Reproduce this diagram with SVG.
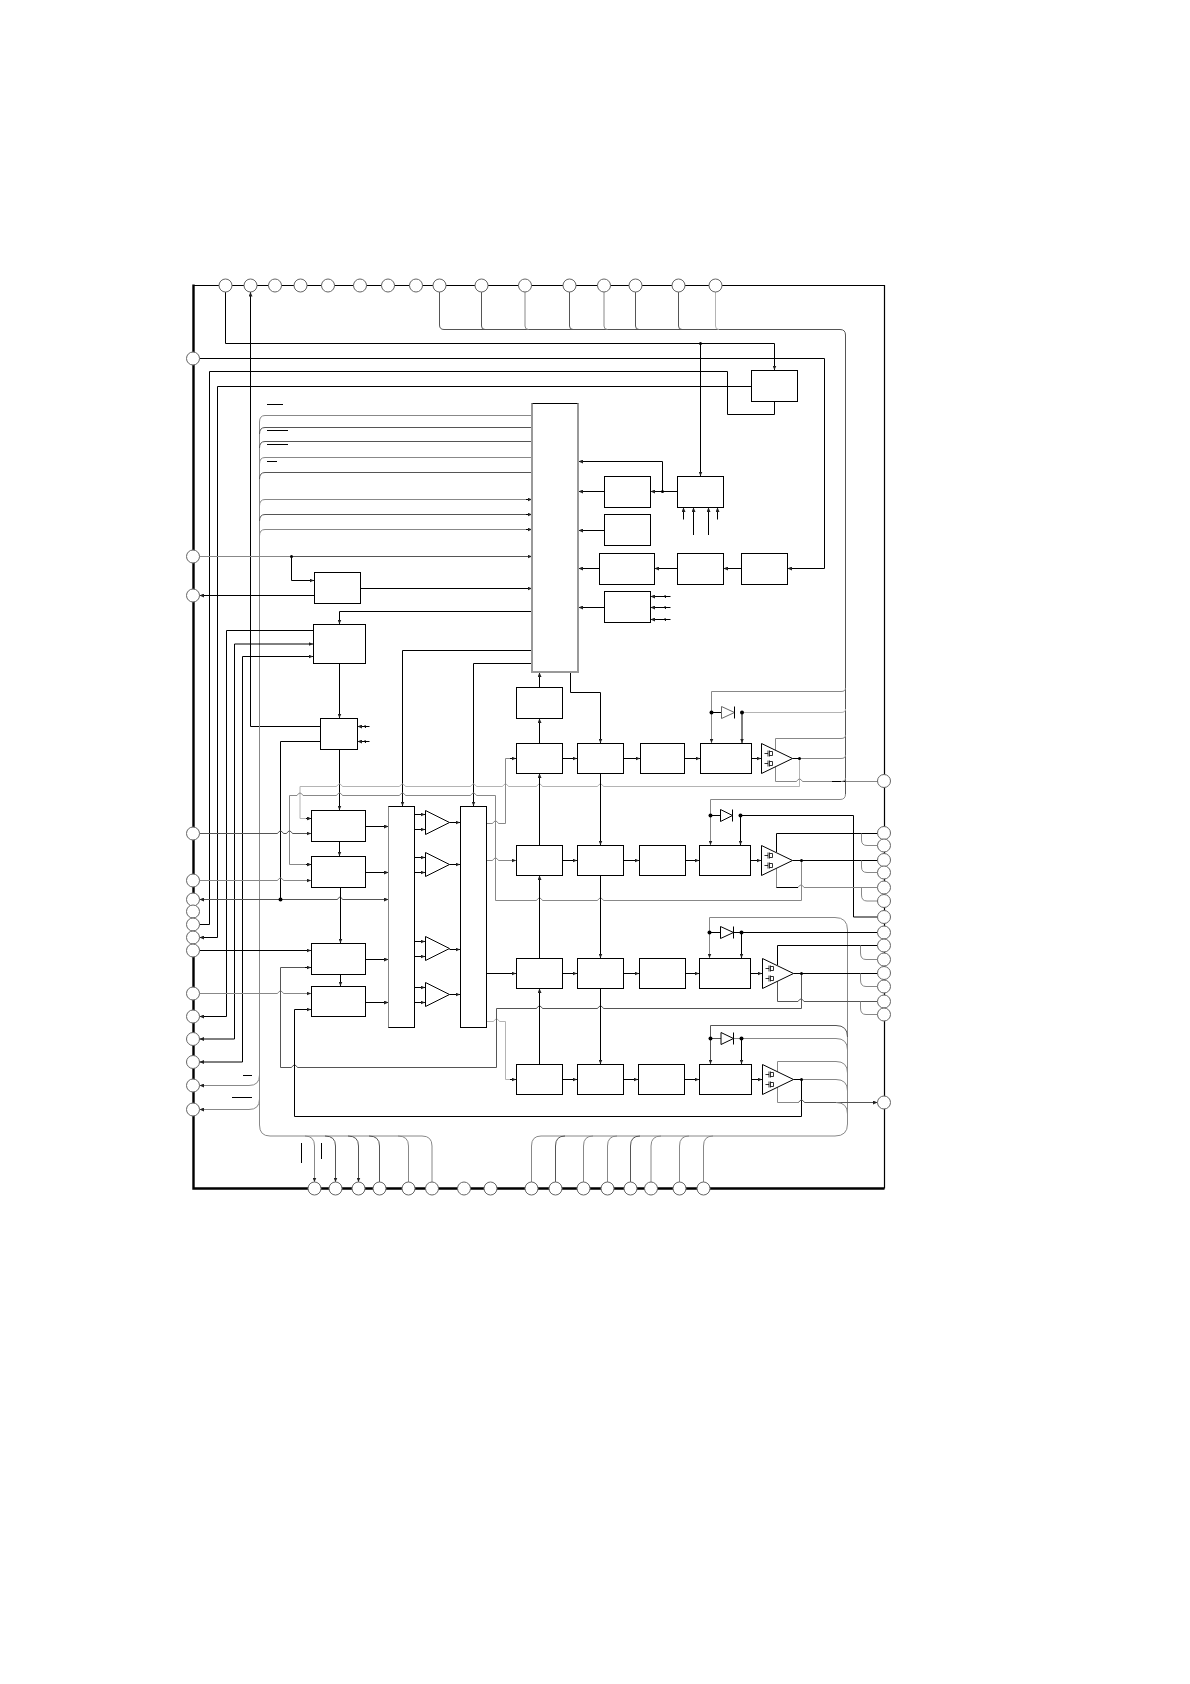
<svg xmlns="http://www.w3.org/2000/svg" width="1190" height="1684" viewBox="0 0 1190 1684">
<style>
path{fill:none;stroke-linejoin:miter}
.k{stroke:#000;stroke-width:1}
.d{stroke:#555;stroke-width:1}
.g{stroke:#888;stroke-width:1}
.l{stroke:#b4b4b4;stroke-width:1}
.a{marker-end:url(#ah)}
.b{fill:#fff;stroke:#000;stroke-width:1}
.p{fill:#fff;stroke:#666;stroke-width:1}
.t{fill:#fff;stroke:#000;stroke-width:1}
.dot{fill:#000;stroke:none}
.s{fill:none;stroke:#999;stroke-width:2}
.f{fill:none;stroke:#000;stroke-width:.8}
</style>
<defs>
<marker id="ah" markerUnits="userSpaceOnUse" markerWidth="5" markerHeight="4" refX="4.5" refY="2" orient="auto"><polygon points="0,0 4.5,2 0,4" fill="#222"/></marker>
<g id="fet"><path class="f" d="M3 -4H6.5M6.5 -7V-1M8 -7V-1M8 -6H11V-2H8M3 6H6.5M6.5 3V9M8 3V9M8 4H11V8H8"/></g>
</defs>
<rect width="1190" height="1684" fill="#fff"/>
<g id="frame">
<path stroke="#000" stroke-width="1.2" d="M193 285.5H884.5V1188.5"/>
<path stroke="#000" stroke-width="2.4" d="M193.5 284.5V1188.5H884.5"/>
</g>
<g id="connectors">
<path class="k a" d="M225.5 292V343.5H774.5V370"/>
<path class="k a" d="M700.5 343.5V476"/>
<path class="k a" d="M199.5 358.5H824.5V568.5H787.5"/>
<path class="k" d="M199.5 924.5H209.5V371.5H727.5V414.5H774.5V401.5"/>
<path class="k a" d="M751.5 386.5H217.5V937.5H199.5"/>
<path class="k a" d="M320.5 726.5H250.5V292"/>
<path class="k" d="M267 404.5H283M267 430.5H288M267 444.5H288M267 461.5H277M243 1075.5H252M232 1097.5H252M301.5 1143V1163M321.5 1143V1159"/>
<path class="g" d="M532 415.5H265Q259.5 415.5 259.5 422V1125Q259.5 1136 270 1136H422Q432 1136 432 1146V1182"/>
<path class="d" d="M532 427.5H265Q259.5 427.5 259.5 434"/>
<path class="d" d="M532 441.5H265Q259.5 441.5 259.5 448"/>
<path class="g" d="M532 457.5H265Q259.5 457.5 259.5 464"/>
<path class="d" d="M532 472.5H265Q259.5 472.5 259.5 479"/>
<path class="g" d="M532 499.5H265Q259.5 499.5 259.5 506"/>
<path class="d" d="M532 514.5H265Q259.5 514.5 259.5 521"/>
<path class="g" d="M532 529.5H265Q259.5 529.5 259.5 536"/>
<path class="k a" d="M526 499.5H532"/><path class="k a" d="M526 514.5H532"/><path class="k a" d="M526 529.5H532"/>
<path class="g a" d="M259.5 1075Q259.5 1085.5 249 1085.5H199.5"/>
<path class="g a" d="M259.5 1099Q259.5 1109.5 249 1109.5H199.5"/>
<path class="g a" d="M305 1136Q314.5 1136 314.5 1146V1182"/>
<path class="d a" d="M325 1136Q335.5 1136 335.5 1146V1182"/>
<path class="d a" d="M348 1136Q358.5 1136 358.5 1146V1182"/>
<path class="d" d="M369 1136Q379.5 1136 379.5 1146V1182"/>
<path class="g" d="M398 1136Q408.5 1136 408.5 1146V1182"/>
<path class="g" d="M199.5 556.5H291"/>
<path class="d a" d="M291 556.5H532"/>
<path class="k a" d="M291.5 556.5V580.5H314"/>
<path class="k a" d="M360.5 588.5H532"/>
<path class="k a" d="M314 595.5H199.5"/>
<path class="k a" d="M532 611.5H339.5V624"/>
<path class="k a" d="M313.5 630.5H226.5V1016.5H199.5"/>
<path class="k a" d="M234.5 1039H199.5"/>
<path class="k a" d="M234.5 1039V644H313"/>
<path class="k a" d="M242.5 1062H199.5"/>
<path class="k a" d="M242.5 1062V656.5H313"/>
<path class="k a" d="M339.5 663V718"/>
<path class="k" d="M320.5 741.5H280.5V899.5"/>
<path class="k a" d="M369.5 726.5H357.5"/><path class="k a" d="M369.5 741.5H357.5"/>
<path class="k a" d="M339.5 749V810"/>
<path class="k a" d="M532 650.5H402.5V806"/>
<path class="k a" d="M532 663.5H473.5V806"/>
<path class="d a" d="M280.5 899.5H199.5"/>
<path class="d a" d="M280.5 899.5H337.5q2.5 -5 5 0H388.5"/>
<path class="l a" d="M799.5 758.5V786.5H603.5q-3 -5 -6 0H542.5q-3 -5 -6 0H508.5q-3 -5 -6 0H476.5q-3 -5 -6 0H405.5q-3 -5 -6 0H342.5q-3 -5 -6 0H300V818.5H311"/>
<path class="g a" d="M801.5 860.5V900.5H603.5q-3 -5 -6 0H542.5q-3 -5 -6 0H495.5V795.5H476.5q-3 -5 -6 0H405.5q-3 -5 -6 0H342.5q-3 -5 -6 0H303q-3 -5 -6 0H289.5V864.5H311"/>
<path class="k a" d="M306 864.5H311"/><path class="k a" d="M306 818.5H311"/>
<path class="d a" d="M199.5 833.5H277.5q3 -5 6 0H286.5q3 -5 6 0H311"/>
<path class="g a" d="M199.5 880.5H277.5q3 -5 6 0H311"/>
<path class="k a" d="M199.5 950.5H311"/>
<path class="g a" d="M199.5 993.5H277.5q3 -5 6 0H311"/>
<path class="g" d="M486.5 823.5H492.5q3 -5 6 0H505.5V758.5H516"/>
<path class="k a" d="M510 758.5H516"/>
<path class="g a" d="M486.5 860.5H492.5q3 -5 6 0H516"/>
<path class="k a" d="M486.5 973.5H516"/>
<path class="l" d="M486.5 1021.5H493.5q3 -5 6 0H505.5V1079.5H516"/>
<path class="k a" d="M510 1079.5H516"/>
<path class="d" d="M311 967.5H280.5V1067.5H291.5q3 -5 6 0H496.5V1008.5H536.5q3 -5 6 0H597.5q3 -5 6 0H801.5V973.5"/>
<path class="k a" d="M305 967.5H311"/>
<path class="k a" d="M801.5 1079.5V1116.5H294.5V1009.5H311"/>
<path class="k a" d="M365.5 826.5H388.5"/><path class="k a" d="M365.5 872.5H388.5"/>
<path class="k a" d="M365.5 959.5H388.5"/><path class="k a" d="M365.5 1002.5H388.5"/>
<path class="k a" d="M339.5 841.5V856"/><path class="k a" d="M340.5 887.5V943"/>
<path class="k a" d="M340.5 974.5V986"/>
<path class="k a" d="M414.5 814.5H425"/><path class="k a" d="M414.5 829.5H425"/>
<path class="k a" d="M414.5 857.5H425"/><path class="k a" d="M414.5 872.5H425"/>
<path class="k a" d="M414.5 941.5H425"/><path class="k a" d="M414.5 956.5H425"/>
<path class="k a" d="M414.5 987.5H425"/><path class="k a" d="M414.5 1002.5H425"/>
<path class="k a" d="M449.5 822.5H460"/><path class="k a" d="M449.5 864.5H460"/>
<path class="k a" d="M449.5 949.5H460"/><path class="k a" d="M449.5 994.5H460"/>
<path class="k a" d="M662.5 491.5V461.5H578.5"/>
<path class="k a" d="M677.5 491.5H650.5"/>
<path class="k a" d="M604.5 491.5H578.5"/>
<path class="k a" d="M604.5 530.5H578.5"/>
<path class="k a" d="M599.5 568.5H578.5"/>
<path class="k a" d="M677.5 568.5H654.5"/>
<path class="k a" d="M741.5 568.5H723.5"/>
<path class="k a" d="M604.5 607.5H578.5"/>
<path class="k a" d="M683.5 519.5V507.5"/><path class="k a" d="M693.5 535V507.5"/>
<path class="k a" d="M708.5 535V507.5"/><path class="k a" d="M717.5 519.5V507.5"/>
<path class="k a" d="M670.5 596.5H650.5"/><path class="k a" d="M670.5 607.5H650.5"/><path class="k a" d="M670.5 619.5H650.5"/>
<path class="k" d="M665 595l.5 3M665 606l.5 3M665 618l.5 3M365 725l.5 3M365 740l.5 3"/>
<path class="k a" d="M539.5 687.5V672.5"/><path class="k a" d="M539.5 743.5V718.5"/>
<path class="k a" d="M539.5 845.5V773.5"/><path class="k a" d="M539.5 958.5V875.5"/>
<path class="k a" d="M539.5 1064.5V988.5"/>
<path class="k a" d="M570.5 672.5V692.5H600.5V743"/>
<path class="k a" d="M600.5 773.5V845"/><path class="k a" d="M600.5 875.5V958"/>
<path class="k a" d="M600.5 988.5V1064"/>
<path class="k a" d="M562.5 758.5H577"/><path class="k a" d="M623.5 758.5H640"/><path class="k a" d="M684.5 758.5H700"/><path class="k a" d="M751.5 758.5H761"/>
<path class="k a" d="M562.5 860.5H577"/><path class="k a" d="M623.5 860.5H639"/><path class="k a" d="M685.5 860.5H699"/><path class="k a" d="M750.5 860.5H761"/>
<path class="k a" d="M562.5 973.5H577"/><path class="k a" d="M623.5 973.5H639"/><path class="k a" d="M685.5 973.5H699"/><path class="k a" d="M750.5 973.5H762"/>
<path class="k a" d="M562.5 1079.5H577"/><path class="k a" d="M623.5 1079.5H638"/><path class="k a" d="M684.5 1079.5H699"/><path class="k a" d="M751.5 1079.5H762"/>
<path class="d" d="M439.5 292V325Q439.5 329.5 444 329.5H840Q845.5 329.5 845.5 335V794"/>
<path class="d" d="M481.5 292V326Q481.5 329.5 485 329.5"/>
<path class="g" d="M525 292V326Q525 329.5 528.5 329.5"/>
<path class="d" d="M569.5 292V326Q569.5 329.5 573 329.5"/>
<path class="g" d="M604 292V326Q604 329.5 607.5 329.5"/>
<path class="d" d="M635.5 292V326Q635.5 329.5 639 329.5"/>
<path class="d" d="M678.5 292V326Q678.5 329.5 682 329.5"/>
<path class="l" d="M715.5 292V326Q715.5 329.5 719 329.5"/>
<path class="g a" d="M845.5 688Q845.5 691.5 841 691.5H711.5V743"/>
<path class="l" d="M742 712.5H841Q845.5 712.5 845.5 709"/>
<path class="k a" d="M742 712.5V743"/>
<path class="k" d="M711.5 712.5H721.5"/>
<path class="g" d="M775.5 750V738.5H841Q845.5 738.5 845.5 735"/>
<path class="k" d="M792.5 758.5H799.5"/>
<path class="g" d="M799.5 758.5H841Q845.5 758.5 845.5 755"/>
<path class="g" d="M775.5 766V781.5H796.5q3 -5 6 0H877.5"/>
<path class="k" d="M832 781.5H845.5"/>
<path class="g" d="M841 781.5Q845.5 781.5 845.5 778"/>
<path class="g a" d="M845.5 794Q845.5 799.5 840 799.5H710.5V845"/>
<path class="k" d="M710.5 815.5H720.5"/>
<path class="k a" d="M740.5 815.5V845"/>
<path class="k" d="M740.5 815.5H853.5V917H877.5"/>
<path class="k" d="M776.5 852V833.5H877.5"/>
<path class="k" d="M792.5 860.5H877.5"/>
<path class="g" d="M776.5 868V887.5H798q3 -5 6 0H877.5"/>
<path class="k" d="M776.5 887.5H798"/>
<path class="g" d="M861.5 833.5V840Q861.5 845.5 867 845.5H877.5"/>
<path class="g" d="M861.5 860.5V867Q861.5 872.5 867 872.5H877.5"/>
<path class="g" d="M861.5 887.5V895Q861.5 901 867 901H877.5"/>
<path class="g a" d="M847.5 930Q847.5 917.5 835 917.5H709.5V958"/>
<path class="g" d="M847.5 930V1124Q847.5 1136 835 1136H541Q531.5 1136 531.5 1146V1182"/>
<path class="k" d="M709.5 932.5H720"/>
<path class="k" d="M733 932.5H877.5"/>
<path class="k a" d="M741.5 932.5V958"/>
<path class="k" d="M777.5 965V945.5H877.5"/>
<path class="k" d="M793.5 973.5H877.5"/>
<path class="d" d="M777.5 981V1001.5H798q3 -5 6 0H877.5"/>
<path class="g" d="M860.5 945.5V953Q860.5 959.5 866 959.5H877.5"/>
<path class="g" d="M860.5 973.5V980Q860.5 986.5 866 986.5H877.5"/>
<path class="g" d="M860.5 1001.5V1008Q860.5 1014.5 866 1014.5H877.5"/>
<path class="d a" d="M847.5 1037Q847.5 1025.5 836 1025.5H710.5V1064"/>
<path class="d" d="M710.5 1038.5H721"/>
<path class="g" d="M733.5 1038.5H836Q847.5 1038.5 847.5 1050"/>
<path class="k a" d="M741.5 1038.5V1064"/>
<path class="g" d="M777.5 1072V1061.5H836Q847.5 1061.5 847.5 1073"/>
<path class="g" d="M801.5 1079.5H836Q847.5 1079.5 847.5 1091"/>
<path class="k" d="M793.5 1079.5H801.5"/>
<path class="g" d="M777.5 1087V1102.5H798.5"/>
<path class="d a" d="M798.5 1102.5q3 -5 6 0H877.5"/>
<path class="g" d="M836 1102.5Q847.5 1102.5 847.5 1114"/>
<path class="d" d="M565 1136Q555.5 1136 555.5 1146V1182"/>
<path class="g" d="M593 1136Q583.5 1136 583.5 1146V1182"/>
<path class="g" d="M617 1136Q607.5 1136 607.5 1146V1182"/>
<path class="d" d="M640 1136Q630.5 1136 630.5 1146V1182"/>
<path class="g" d="M661 1136Q651 1136 651 1146V1182"/>
<path class="g" d="M689 1136Q679.5 1136 679.5 1146V1182"/>
<path class="g" d="M713 1136Q703.5 1136 703.5 1146V1182"/>
<circle class="dot" cx="700.5" cy="343.5" r="1.5"/><circle class="dot" cx="291.5" cy="556.5" r="1.5"/><circle class="dot" cx="662.5" cy="491.5" r="1.5"/><circle class="dot" cx="280.5" cy="899.5" r="2"/>
<circle class="dot" cx="711.5" cy="712.5" r="2"/><circle class="dot" cx="742" cy="712.5" r="2"/><circle class="dot" cx="799.5" cy="758.5" r="1.5"/>
<circle class="dot" cx="710.5" cy="815.5" r="2"/><circle class="dot" cx="740.5" cy="815.5" r="2"/><circle class="dot" cx="801.5" cy="860.5" r="1.5"/>
<circle class="dot" cx="709.5" cy="932.5" r="2"/><circle class="dot" cx="741.5" cy="932.5" r="2"/><circle class="dot" cx="801.5" cy="973.5" r="1.5"/>
<circle class="dot" cx="710.5" cy="1038.5" r="2"/><circle class="dot" cx="741.5" cy="1038.5" r="2"/><circle class="dot" cx="801.5" cy="1079.5" r="1.5"/>
</g>
<g id="blocks">
<g id="ctl-a"><rect class="b" x="751.5" y="370.5" width="46" height="31"/></g>
<g id="main-col"><rect class="b" x="532" y="403.5" width="46" height="268.5"/><path class="s" d="M532 403.5V672H578V403.5"/></g>
<g id="b1"><rect class="b" x="604.5" y="476.5" width="46" height="31"/></g>
<g id="b2"><rect class="b" x="677.5" y="476.5" width="46" height="31"/></g>
<g id="b3"><rect class="b" x="604.5" y="514.5" width="46" height="31"/></g>
<g id="b4"><rect class="b" x="599.5" y="553.5" width="55" height="31"/></g>
<g id="b5"><rect class="b" x="677.5" y="553.5" width="46" height="31"/></g>
<g id="b6"><rect class="b" x="741.5" y="553.5" width="46" height="31"/></g>
<g id="b7"><rect class="b" x="604.5" y="591.5" width="46" height="31"/></g>
<g id="b8"><rect class="b" x="314.5" y="572.5" width="46" height="31"/></g>
<g id="b9"><rect class="b" x="313.5" y="624.5" width="52" height="39"/></g>
<g id="b10"><rect class="b" x="320.5" y="718.5" width="37" height="31"/></g>
<g id="b11"><rect class="b" x="311.5" y="810.5" width="54" height="31"/></g>
<g id="b12"><rect class="b" x="311.5" y="856.5" width="54" height="31"/></g>
<g id="b13"><rect class="b" x="311.5" y="943.5" width="54" height="31"/></g>
<g id="b14"><rect class="b" x="311.5" y="986.5" width="54" height="30"/></g>
<g id="mux1"><rect class="b" x="388.5" y="806.5" width="26" height="221"/><path class="g" stroke-width="2" d="M388.5 806.5V1027.5"/></g>
<g id="mux2"><rect class="b" x="460.5" y="806.5" width="26" height="221"/></g>
<g id="op1"><polygon class="t" points="425.5,810.5 425.5,834.5 449.5,822.5"/></g>
<g id="op2"><polygon class="t" points="425.5,852.5 425.5,876.5 449.5,864.5"/></g>
<g id="op3"><polygon class="t" points="425.5,936.5 425.5,960.5 449.5,948.5"/></g>
<g id="op4"><polygon class="t" points="425.5,982.5 425.5,1006.5 449.5,994.5"/></g>
<g id="b15"><rect class="b" x="516.5" y="687.5" width="46" height="31"/></g>
<g id="r1a"><rect class="b" x="516.5" y="743.5" width="46" height="30"/></g>
<g id="r1b"><rect class="b" x="577.5" y="743.5" width="46" height="30"/></g>
<g id="r1c"><rect class="b" x="640.5" y="743.5" width="44" height="30"/></g>
<g id="r1d"><rect class="b" x="700.5" y="743.5" width="51" height="30"/></g>
<g id="r2a"><rect class="b" x="516.5" y="845.5" width="46" height="30"/></g>
<g id="r2b"><rect class="b" x="577.5" y="845.5" width="46" height="30"/></g>
<g id="r2c"><rect class="b" x="639.5" y="845.5" width="46" height="30"/></g>
<g id="r2d"><rect class="b" x="699.5" y="845.5" width="51" height="30"/></g>
<g id="r3a"><rect class="b" x="516.5" y="958.5" width="46" height="30"/></g>
<g id="r3b"><rect class="b" x="577.5" y="958.5" width="46" height="30"/></g>
<g id="r3c"><rect class="b" x="639.5" y="958.5" width="46" height="30"/></g>
<g id="r3d"><rect class="b" x="699.5" y="958.5" width="51" height="30"/></g>
<g id="r4a"><rect class="b" x="516.5" y="1064.5" width="46" height="30"/></g>
<g id="r4b"><rect class="b" x="577.5" y="1064.5" width="46" height="30"/></g>
<g id="r4c"><rect class="b" x="638.5" y="1064.5" width="46" height="30"/></g>
<g id="r4d"><rect class="b" x="699.5" y="1064.5" width="52" height="30"/></g>
<g id="amp1"><polygon class="t" points="761.5,743.5 761.5,773.5 792.5,758.5"/><use href="#fet" x="761.5" y="757.5"/></g>
<g id="amp2"><polygon class="t" points="761.5,845.5 761.5,875.5 792.5,860.5"/><use href="#fet" x="761.5" y="859.5"/></g>
<g id="amp3"><polygon class="t" points="762.5,958.5 762.5,988.5 793.5,973.5"/><use href="#fet" x="762.5" y="972.5"/></g>
<g id="amp4"><polygon class="t" points="762.5,1064.5 762.5,1094.5 793.5,1079.5"/><use href="#fet" x="762.5" y="1078.5"/></g>
<g id="d1"><polygon class="t" style="stroke:#666" points="721.5,706.5 721.5,718.5 734.5,712.5"/><path class="k" d="M734.5 706.5V718.5"/></g>
<g id="d2"><polygon class="t" points="720.5,809.5 720.5,821.5 732.5,815.5"/><path class="k" d="M732.5 809.5V821.5"/></g>
<g id="d3"><polygon class="t" points="720.5,926.5 720.5,938.5 733.5,932.5"/><path class="k" d="M733.5 926.5V938.5"/></g>
<g id="d4"><polygon class="t" points="721,1032.5 721,1044.5 733.5,1038.5"/><path class="k" d="M733.5 1032.5V1044.5"/></g>
</g>
<g id="pins-top">
<circle class="p" cx="225.5" cy="285.5" r="6.5"/><circle class="p" cx="250.5" cy="285.5" r="6.5"/><circle class="p" cx="275" cy="285.5" r="6.5"/><circle class="p" cx="300.5" cy="285.5" r="6.5"/><circle class="p" cx="328" cy="285.5" r="6.5"/><circle class="p" cx="360" cy="285.5" r="6.5"/><circle class="p" cx="388" cy="285.5" r="6.5"/><circle class="p" cx="416" cy="285.5" r="6.5"/><circle class="p" cx="439.5" cy="285.5" r="6.5"/><circle class="p" cx="481.5" cy="285.5" r="6.5"/><circle class="p" cx="525" cy="285.5" r="6.5"/><circle class="p" cx="569.5" cy="285.5" r="6.5"/><circle class="p" cx="604" cy="285.5" r="6.5"/><circle class="p" cx="635.5" cy="285.5" r="6.5"/><circle class="p" cx="678.5" cy="285.5" r="6.5"/><circle class="p" cx="715.5" cy="285.5" r="6.5"/>
</g>
<g id="pins-left">
<circle class="p" cx="193" cy="358.5" r="6.5"/><circle class="p" cx="193" cy="556.5" r="6.5"/><circle class="p" cx="193" cy="595.5" r="6.5"/><circle class="p" cx="193" cy="833.5" r="6.5"/><circle class="p" cx="193" cy="880.5" r="6.5"/><circle class="p" cx="193" cy="899.5" r="6.5"/><circle class="p" cx="193" cy="911.5" r="6.5"/><circle class="p" cx="193" cy="924.5" r="6.5"/><circle class="p" cx="193" cy="937.5" r="6.5"/><circle class="p" cx="193" cy="950.5" r="6.5"/><circle class="p" cx="193" cy="993.5" r="6.5"/><circle class="p" cx="193" cy="1016.5" r="6.5"/><circle class="p" cx="193" cy="1039" r="6.5"/><circle class="p" cx="193" cy="1062" r="6.5"/><circle class="p" cx="193" cy="1085.5" r="6.5"/><circle class="p" cx="193" cy="1109.5" r="6.5"/>
</g>
<g id="pins-bottom">
<circle class="p" cx="314.5" cy="1188.5" r="6.5"/><circle class="p" cx="335.5" cy="1188.5" r="6.5"/><circle class="p" cx="358.5" cy="1188.5" r="6.5"/><circle class="p" cx="379.5" cy="1188.5" r="6.5"/><circle class="p" cx="408.5" cy="1188.5" r="6.5"/><circle class="p" cx="432" cy="1188.5" r="6.5"/><circle class="p" cx="464" cy="1188.5" r="6.5"/><circle class="p" cx="490.5" cy="1188.5" r="6.5"/><circle class="p" cx="531.5" cy="1188.5" r="6.5"/><circle class="p" cx="555.5" cy="1188.5" r="6.5"/><circle class="p" cx="583.5" cy="1188.5" r="6.5"/><circle class="p" cx="607.5" cy="1188.5" r="6.5"/><circle class="p" cx="630.5" cy="1188.5" r="6.5"/><circle class="p" cx="651" cy="1188.5" r="6.5"/><circle class="p" cx="679.5" cy="1188.5" r="6.5"/><circle class="p" cx="703.5" cy="1188.5" r="6.5"/>
</g>
<g id="pins-right">
<circle class="p" cx="884" cy="781" r="6.5"/><circle class="p" cx="884" cy="833" r="6.5"/><circle class="p" cx="884" cy="845.5" r="6.5"/><circle class="p" cx="884" cy="860" r="6.5"/><circle class="p" cx="884" cy="872.5" r="6.5"/><circle class="p" cx="884" cy="887.5" r="6.5"/><circle class="p" cx="884" cy="901" r="6.5"/><circle class="p" cx="884" cy="917" r="6.5"/><circle class="p" cx="884" cy="932.5" r="6.5"/><circle class="p" cx="884" cy="945.5" r="6.5"/><circle class="p" cx="884" cy="959.5" r="6.5"/><circle class="p" cx="884" cy="973" r="6.5"/><circle class="p" cx="884" cy="986.5" r="6.5"/><circle class="p" cx="884" cy="1001.5" r="6.5"/><circle class="p" cx="884" cy="1014.5" r="6.5"/><circle class="p" cx="884" cy="1102.5" r="6.5"/>
</g>
</svg>
